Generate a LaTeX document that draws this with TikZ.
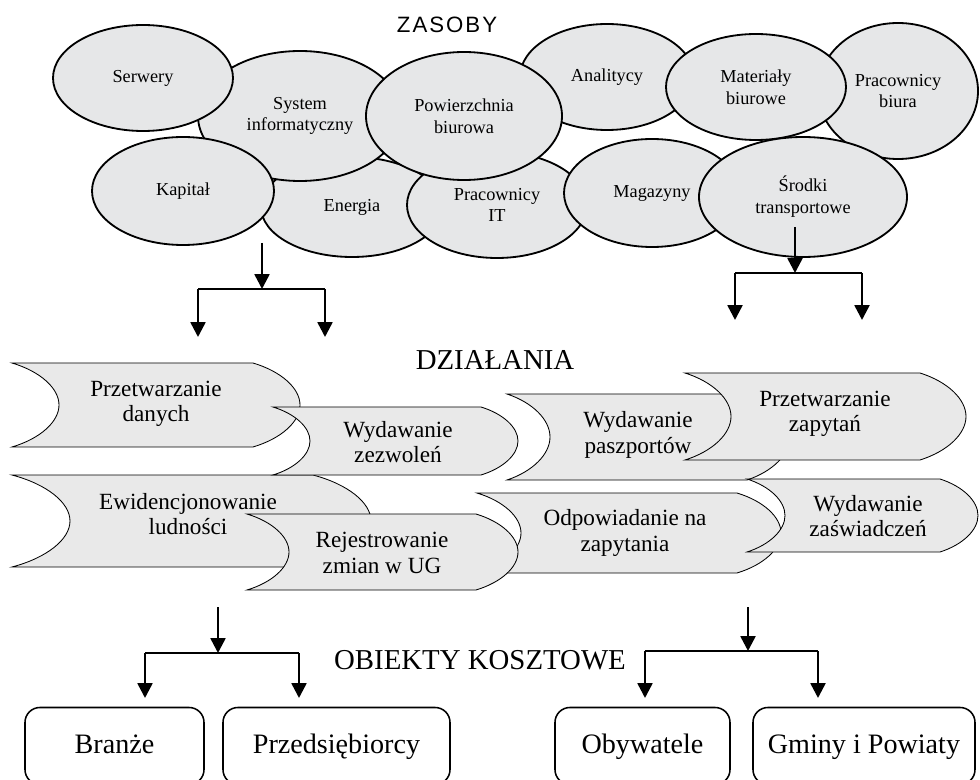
\documentclass[tikz,border=0pt]{standalone}
\usepackage{fontspec}
\setmainfont{Liberation Serif}
\newfontfamily\zasobyfont[LetterSpace=9]{Liberation Sans}
\usetikzlibrary{shapes.geometric,arrows.meta}

\definecolor{resgray}{RGB}{230,231,232}
\definecolor{actgray}{RGB}{233,233,233}

\newcommand{\pxu}{0.025cm}

% activity outline: left x, top y, right x, height, bulge
\newcommand{\tapeshape}[5]{%
  \draw[act] (#1,#2) -- (#3,#2)
    .. controls +(0.6*#5,0.1*#4) and +(0,-0.2*#4) .. (#3+#5,#2+0.5*#4)
    .. controls +(0,0.2*#4) and +(0.6*#5,-0.1*#4) .. (#3,#2+#4)
    -- (#1,#2+#4)
    .. controls +(0.6*#5,-0.1*#4) and +(0,0.2*#4) .. (#1+#5,#2+0.5*#4)
    .. controls +(0,-0.2*#4) and +(0.6*#5,0.1*#4) .. (#1,#2) -- cycle;
}

\begin{document}
\begin{tikzpicture}[x=\pxu,y=-\pxu,
    res/.style={ellipse,draw,line width=1.3pt,fill=resgray,inner sep=0pt,align=center,font=\fontsize{13}{15.5}\selectfont},
    act/.style={draw,line width=0.6pt,fill=actgray},
    acttext/.style={align=center,font=\fontsize{16.5}{18}\selectfont},
    obj/.style={draw,line width=1.1pt,rounded corners=10.6pt,minimum height=77*\pxu,text height=14pt,text depth=4pt,font=\fontsize{20}{22}\selectfont},
    lbl/.style={font=\fontsize{20.5}{22}\selectfont},
    link/.style={line width=1.8pt,-{Triangle[width=10.5pt,length=10.5pt]}},
    bar/.style={line width=1.3pt}]
	\clip (0,0) rectangle (980,780);
	
	% zasoby
	\node[font=\zasobyfont\fontsize{15.8}{18}\selectfont] (zasoby) at (447,25) {ZASOBY};
	
	\node[res,minimum width=182*\pxu,minimum height=100*\pxu] (energia) at (352,207) {Energia};
	\node[res,minimum width=204*\pxu,minimum height=130*\pxu] (system) at (300,116) {System\\informatyczny};
	\node[res,minimum width=180*\pxu,minimum height=106*\pxu] (serwery) at (143,78) {Serwery};
	\node[res,minimum width=182*\pxu,minimum height=108*\pxu] (kapital) at (183,191) {Kapitał};
	\node[res,minimum width=180*\pxu,minimum height=106*\pxu] (pracit) at (497,205) {Pracownicy\\IT};
	\node[res,minimum width=174*\pxu,minimum height=106*\pxu] (analitycy) at (607,77) {Analitycy};
	\node[res,minimum width=196*\pxu,minimum height=128*\pxu] (powierzchnia) at (464,116) {Powierzchnia\\biurowa};
	\node[res,minimum width=160*\pxu,minimum height=136*\pxu] (pracbiura) at (898,91) {Pracownicy\\biura};
	\node[res,minimum width=180*\pxu,minimum height=106*\pxu] (materialy) at (756,87) {Materiały\\biurowe};
	\node[res,minimum width=176*\pxu,minimum height=108*\pxu] (magazyny) at (652,193) {Magazyny};
	\node[res,minimum width=208*\pxu,minimum height=120*\pxu] (srodki) at (803,197) {Środki\\transportowe};
	
	% arrows to activities
	\coordinate (za) at (262,243);
	\coordinate (zaj) at (262,289);
	\coordinate (zal) at (198,289);
	\coordinate (zar) at (325,289);
	\coordinate (zalt) at (198,337);
	\coordinate (zart) at (325,337);
	\draw[link] (za) -- (zaj);
	\draw[bar] (zal) -- (zar);
	\draw[link] (zal) -- (zalt);
	\draw[link] (zar) -- (zart);
	
	\coordinate (zb) at (795,227);
	\coordinate (zbj) at (795,273);
	\coordinate (zbl) at (735,273);
	\coordinate (zbr) at (862,273);
	\coordinate (zblt) at (735,320);
	\coordinate (zbrt) at (862,320);
	\draw[link] (zb) -- (zbj);
	\draw[bar] (zbl) -- (zbr);
	\draw[link] (zbl) -- (zblt);
	\draw[link] (zbr) -- (zbrt);
	
	% dzialania
	\node[lbl,anchor=base] (dzialania) at (495,370) {DZIAŁANIA};
	
	\tapeshape{12}{363}{253}{84}{47}
	\node[acttext] (przetw) at (156,404) {Przetwarzanie\\danych};
	\tapeshape{12}{475}{313}{92}{58}
	\node[acttext] (ewid) at (188,514) {Ewidencjonowanie\\ludności};
	\tapeshape{273}{407}{481}{68}{37}
	\node[acttext] (zezw) at (398,442) {Wydawanie\\zezwoleń};
	\tapeshape{477}{493}{737}{80}{44}
	\node[acttext] (odp) at (625,533) {Odpowiadanie na\\zapytania};
	\tapeshape{247}{514}{476}{76}{42}
	\node[acttext] (rejestr) at (382,553) {Rejestrowanie\\zmian w UG};
	\tapeshape{507}{394}{747}{86}{43}
	\node[acttext] (paszp) at (638,435) {Wydawanie\\paszportów};
	\tapeshape{685}{373}{920}{87}{46}
	\node[acttext] (zapyt) at (825,414) {Przetwarzanie\\zapytań};
	\tapeshape{747}{479}{940}{73}{38}
	\node[acttext] (zasw) at (868,516) {Wydawanie\\zaświadczeń};
	
	% arrows to cost objects
	\coordinate (da) at (218,607);
	\coordinate (daj) at (218,653);
	\coordinate (dal) at (145,653);
	\coordinate (dar) at (299,653);
	\coordinate (dalt) at (145,698);
	\coordinate (dart) at (299,698);
	\draw[link] (da) -- (daj);
	\draw[bar] (dal) -- (dar);
	\draw[link] (dal) -- (dalt);
	\draw[link] (dar) -- (dart);
	
	\coordinate (db) at (748,607);
	\coordinate (dbj) at (748,651);
	\coordinate (dbl) at (645,651);
	\coordinate (dbr) at (818,651);
	\coordinate (dblt) at (645,698);
	\coordinate (dbrt) at (818,698);
	\draw[link] (db) -- (dbj);
	\draw[bar] (dbl) -- (dbr);
	\draw[link] (dbl) -- (dblt);
	\draw[link] (dbr) -- (dbrt);
	
	% obiekty kosztowe
	\node[lbl,anchor=base] (obiekty) at (480,669) {OBIEKTY KOSZTOWE};
	
	\node[obj,minimum width=179*\pxu] (branze) at (114.5,746) {Branże};
	\node[obj,minimum width=227*\pxu] (przeds) at (336.5,746) {Przedsiębiorcy};
	\node[obj,minimum width=175*\pxu] (obywatele) at (642.5,746) {Obywatele};
	\node[obj,minimum width=222*\pxu] (gminy) at (864,746) {Gminy i Powiaty};
\end{tikzpicture}
\end{document}
